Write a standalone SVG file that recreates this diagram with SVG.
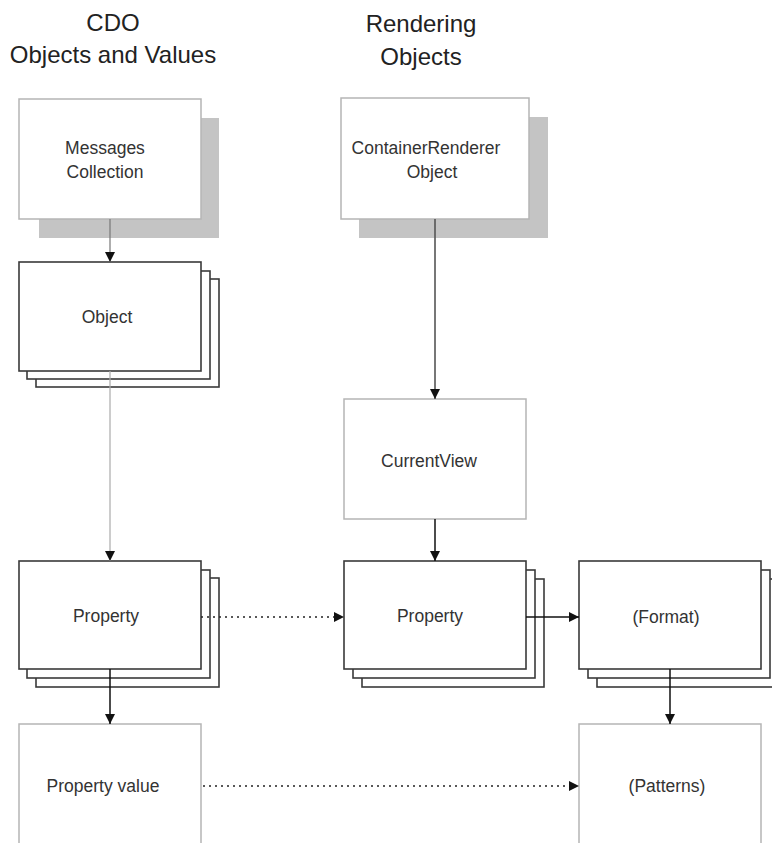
<svg xmlns="http://www.w3.org/2000/svg" width="772" height="843" viewBox="0 0 772 843">
<defs>
<style>
.hd{font-family:"Liberation Sans",Arial,sans-serif;font-size:24px;fill:#222;text-anchor:middle}
.t{font-family:"Liberation Sans",Arial,sans-serif;font-size:17.5px;fill:#333;text-anchor:middle}
.plain{fill:#fff;stroke:#b5b5b5;stroke-width:1.5}
.shadow{fill:#c4c4c4;stroke:none}
.stk{fill:#fff;stroke:#3a3a3a;stroke-width:1.6}
.ln{fill:none;stroke:#111;stroke-width:1.5}
.dot{fill:none;stroke:#222;stroke-width:1.5;stroke-dasharray:2 4}
</style>
<marker id="ah" viewBox="0 0 10 10" refX="10" refY="5" markerWidth="10" markerHeight="10" markerUnits="userSpaceOnUse" orient="auto">
<path d="M0,0 L10,5 L0,10 z" fill="#111"/>
</marker>
</defs>
<rect width="772" height="843" fill="#fff"/>
<g id="headings">
<text class="hd" x="113" y="31">CDO</text>
<text class="hd" x="113" y="63">Objects and Values</text>
<text class="hd" x="421" y="32">Rendering</text>
<text class="hd" x="421" y="65">Objects</text>
</g>
<g id="messages-collection">
<rect class="shadow" x="39" y="118" width="180" height="120"/>
<rect class="plain" x="19" y="99" width="182" height="120"/>
<text class="t" x="105" y="154">Messages</text>
<text class="t" x="105" y="178">Collection</text>
</g>
<g id="object">
<rect class="stk" x="36" y="279" width="183" height="108"/>
<rect class="stk" x="27" y="271" width="183" height="108"/>
<rect class="stk" x="19" y="262" width="182" height="109"/>
<text class="t" x="107" y="323">Object</text>
</g>
<g id="property-cdo">
<rect class="stk" x="36" y="578" width="183" height="109"/>
<rect class="stk" x="27" y="570" width="183" height="108"/>
<rect class="stk" x="19" y="561" width="182" height="108"/>
<text class="t" x="106" y="622">Property</text>
</g>
<g id="property-value">
<rect class="plain" x="19" y="724" width="182" height="130"/>
<text class="t" x="103" y="792">Property value</text>
</g>
<g id="container-renderer">
<rect class="shadow" x="359" y="117" width="189" height="121"/>
<rect class="plain" x="341" y="98" width="188" height="121"/>
<text class="t" x="426" y="154">ContainerRenderer</text>
<text class="t" x="432" y="178">Object</text>
</g>
<g id="current-view">
<rect class="plain" x="344" y="399" width="182" height="120"/>
<text class="t" x="429" y="467">CurrentView</text>
</g>
<g id="property-render">
<rect class="stk" x="362" y="579" width="182" height="108"/>
<rect class="stk" x="353" y="570" width="182" height="108"/>
<rect class="stk" x="344" y="561" width="182" height="108"/>
<text class="t" x="430" y="622">Property</text>
</g>
<g id="format">
<rect class="stk" x="597" y="579" width="182" height="108"/>
<rect class="stk" x="588" y="570" width="182" height="108"/>
<rect class="stk" x="579" y="561" width="182" height="108"/>
<text class="t" x="666" y="623">(Format)</text>
</g>
<g id="patterns">
<rect class="plain" x="579" y="724" width="182" height="130"/>
<text class="t" x="667" y="792">(Patterns)</text>
</g>
<g id="connectors">
<line x1="110" y1="219" x2="110" y2="262" stroke="#777" stroke-width="1.2" marker-end="url(#ah)"/>
<line x1="110" y1="371" x2="110" y2="561" stroke="#aaa" stroke-width="1.2" marker-end="url(#ah)"/>
<line x1="110" y1="669" x2="110" y2="724" class="ln" marker-end="url(#ah)"/>
<line x1="435" y1="219" x2="435" y2="399" stroke="#555" stroke-width="1.6" marker-end="url(#ah)"/>
<line x1="435" y1="519" x2="435" y2="561" class="ln" marker-end="url(#ah)"/>
<line x1="670" y1="669" x2="670" y2="724" class="ln" marker-end="url(#ah)"/>
<line x1="526" y1="617" x2="579" y2="617" class="ln" marker-end="url(#ah)"/>
<line x1="201" y1="617" x2="344" y2="617" class="dot" marker-end="url(#ah)"/>
<line x1="203" y1="786" x2="579" y2="786" class="dot" marker-end="url(#ah)"/>
</g>
</svg>
